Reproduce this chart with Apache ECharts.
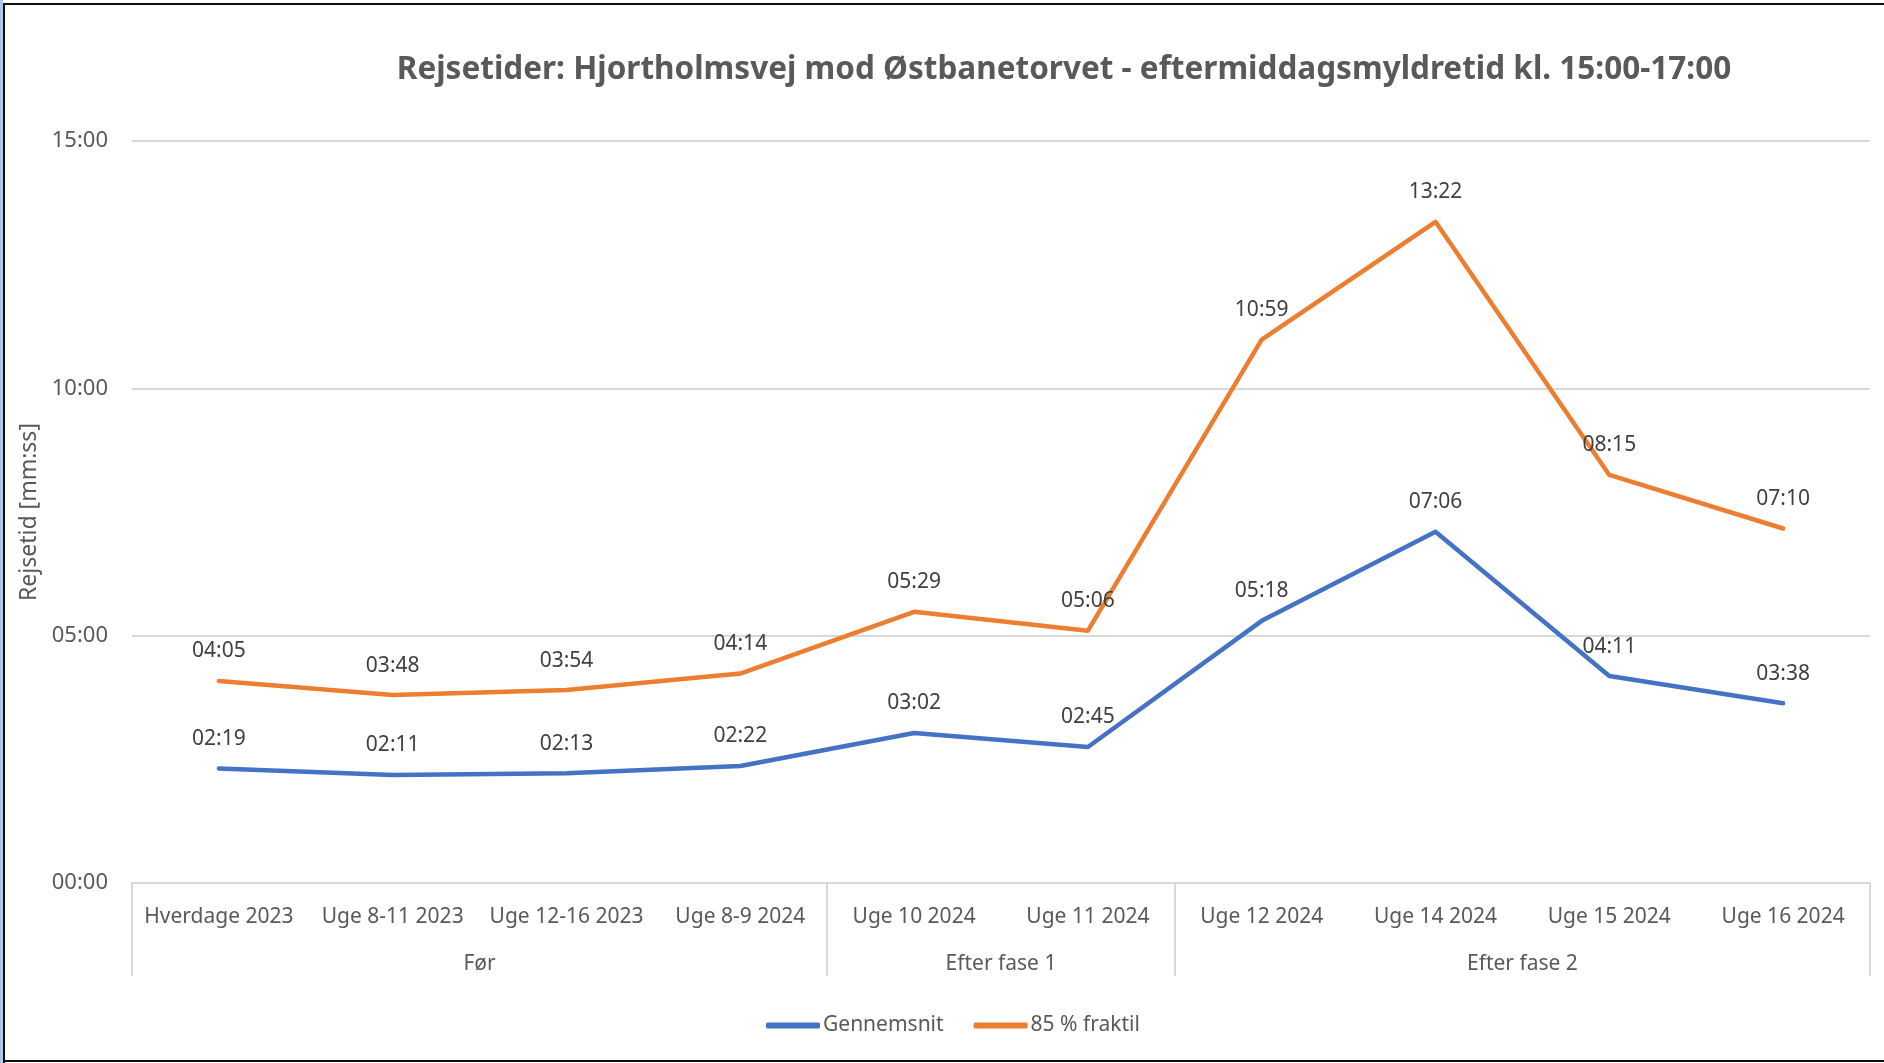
<!DOCTYPE html>
<html>
<head>
<meta charset="utf-8">
<script src="https://cdn.jsdelivr.net/npm/echarts@6/dist/echarts.min.js"></script>
<style>
  html, body { margin: 0; padding: 0; background: #ffffff; }
  #chart { position: absolute; left: 0; top: 0; width: 1884px; height: 1063px; background: #ffffff; }
  .edge { position: absolute; pointer-events: none; }
</style>
</head>
<body>
<div id="chart"></div>
<div class="edge" style="left:0;top:0;width:3px;height:1063px;background:#a9cbe8;"></div>
<div class="edge" style="left:3px;top:3px;width:2px;height:1060px;background:#111;"></div>
<div class="edge" style="left:3px;top:3px;width:1881px;height:2px;background:#111;"></div>
<div class="edge" style="left:3px;top:1060px;width:1881px;height:2px;background:#111;"></div>
<script>
// Travel times in seconds, afternoon rush hour 15:00-17:00
const categories = ['Hverdage 2023', 'Uge 8-11 2023', 'Uge 12-16 2023', 'Uge 8-9 2024',
                    'Uge 10 2024', 'Uge 11 2024',
                    'Uge 12 2024', 'Uge 14 2024', 'Uge 15 2024', 'Uge 16 2024'];
const groups = ['Før', 'Efter fase 1', 'Efter fase 2'];
const groupSizes = [4, 2, 4];
const gennemsnit = [139, 131, 133, 142, 182, 165, 318, 426, 251, 218];
const fraktil85 = [245, 228, 234, 254, 329, 306, 659, 802, 495, 430];
const yTicks = [0, 300, 600, 900];

function mmss(sec) {
  const m = Math.floor(sec / 60), s = Math.round(sec % 60);
  return String(m).padStart(2, '0') + ':' + String(s).padStart(2, '0');
}

// group boundaries and centres on a 0..n value scale
const bounds = [0];
groupSizes.forEach(n => bounds.push(bounds[bounds.length - 1] + n));
const centres = groups.map((g, i) => (bounds[i] + bounds[i + 1]) / 2);

const FONT = "'Noto Sans', 'Open Sans', sans-serif";
const chart = echarts.init(document.getElementById('chart'), null, { renderer: 'canvas' });

const labelStyle = {
  show: true, position: 'top', distance: 19,
  color: '#404040', fontSize: 21, fontFamily: FONT,
  formatter: p => mmss(p.value)
};

chart.setOption({
  animation: false,
  backgroundColor: '#ffffff',
  textStyle: { fontFamily: FONT },
  title: {
    text: 'Rejsetider: Hjortholmsvej mod Østbanetorvet - eftermiddagsmyldretid kl. 15:00-17:00',
    left: 1059, top: 49, textAlign: 'center',
    textStyle: { color: '#595959', fontSize: 31.5, fontWeight: 'bold', fontFamily: FONT }
  },
  legend: {
    bottom: 22, left: 761,
    icon: 'roundRect', itemWidth: 54, itemHeight: 6, itemGap: 30,
    textStyle: { color: '#595959', fontSize: 21, fontFamily: FONT, padding: [0, 0, 0, -2] },
    data: ['Gennemsnit', '85 % fraktil']
  },
  grid: { left: 132, right: 14, top: 141, bottom: 180, containLabel: false },
  xAxis: [
    {
      type: 'category', data: categories, boundaryGap: true,
      axisLine: { show: true, lineStyle: { color: '#d9d9d9', width: 2 } },
      axisTick: { show: false },
      axisLabel: { color: '#595959', fontSize: 21, fontFamily: FONT, margin: 24, interval: 0 }
    },
    {
      type: 'value', position: 'bottom', min: 0, max: categories.length,
      axisLine: { show: false },
      splitLine: { show: false },
      axisTick: {
        show: true, inside: false, length: 93, customValues: bounds,
        lineStyle: { color: '#d9d9d9', width: 2 }
      },
      axisLabel: {
        show: true, customValues: centres, margin: 71,
        color: '#595959', fontSize: 21, fontFamily: FONT,
        formatter: v => groups[centres.indexOf(v)] || ''
      }
    }
  ],
  yAxis: {
    type: 'value', min: yTicks[0], max: yTicks[yTicks.length - 1], interval: 300,
    name: 'Rejsetid [mm:ss]', nameLocation: 'middle', nameGap: 87, nameRotate: 90,
    nameTextStyle: { color: '#595959', fontSize: 23, fontFamily: FONT },
    axisLine: { show: false }, axisTick: { show: false },
    axisLabel: { color: '#595959', fontSize: 22, fontFamily: FONT, margin: 24, formatter: v => mmss(v) },
    splitLine: { show: true, lineStyle: { color: '#d9d9d9', width: 2 } }
  },
  series: [
    {
      name: 'Gennemsnit', type: 'line', xAxisIndex: 0, data: gennemsnit,
      showSymbol: true, symbol: 'circle', symbolSize: 0,
      lineStyle: { color: '#4472c4', width: 4.5, cap: 'round', join: 'round' },
      itemStyle: { color: '#4472c4' },
      label: labelStyle
    },
    {
      name: '85 % fraktil', type: 'line', xAxisIndex: 0, data: fraktil85,
      showSymbol: true, symbol: 'circle', symbolSize: 0,
      lineStyle: { color: '#ed7d31', width: 4.5, cap: 'round', join: 'round' },
      itemStyle: { color: '#ed7d31' },
      label: labelStyle
    }
  ]
});
</script>
</body>
</html>
